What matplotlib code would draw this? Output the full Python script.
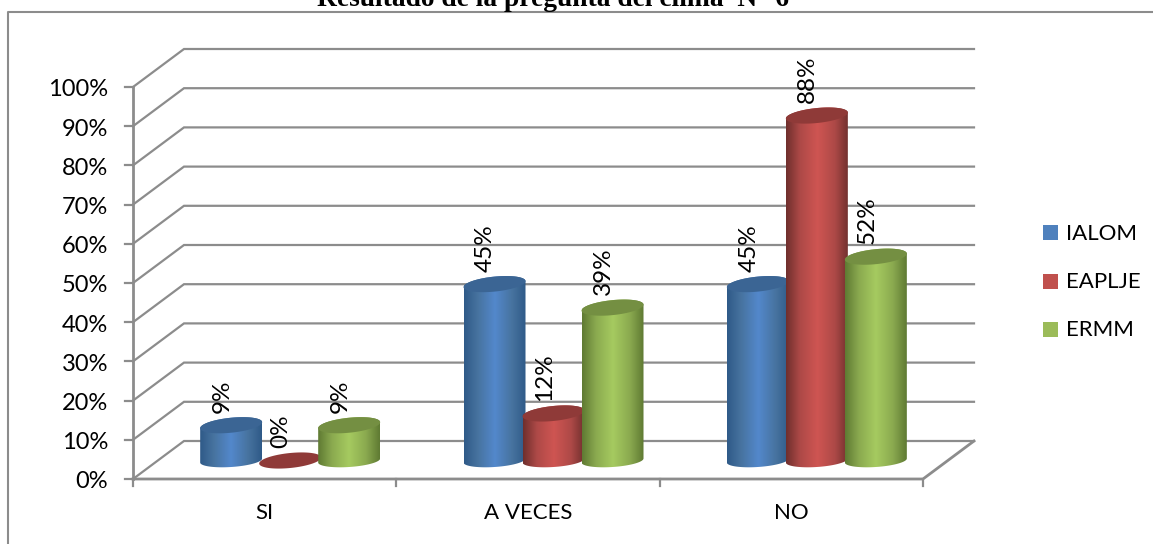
import numpy as np
import matplotlib
matplotlib.use('Agg')
import matplotlib.pyplot as plt
from matplotlib.colors import LinearSegmentedColormap
from matplotlib.patches import Polygon, Rectangle

categories = ['SI', 'A VECES', 'NO']
series_names = ['IALOM', 'EAPLJE', 'ERMM']
ialom = [9, 45, 45]
eaplje = [0, 12, 88]
ermm = [9, 39, 52]
y_ticks = [0, 10, 20, 30, 40, 50, 60, 70, 80, 90, 100]

base_colors = ['#4f81bd', '#c0504d', '#9bbb59']
# edge, cap, mid and highlight shades of each cylinder
shades = [('#2f5a88', '#3b6594', '#47739f', '#5388cc'),
          ('#6f2f2d', '#8f3a38', '#ad4947', '#cf5552'),
          ('#5f7a33', '#748f42', '#8aa94f', '#a6cb60')]

W, H = 1153, 544
LEFT, RIGHT, TOP, BOTTOM = 133, 923, 87, 479
GRID = '#8c8c8c'
FONT = 'Lato'

fig = plt.figure(figsize=(W / 100, H / 100), dpi=100)
ax = fig.add_axes([LEFT / W, 1 - BOTTOM / H, (RIGHT - LEFT) / W, (BOTTOM - TOP) / H])
ax.set_xlim(0, 3)
ax.set_ylim(0, 100)
ax.axis('off')

# pixel sizes converted to data units
px_x = 3 / (RIGHT - LEFT)
px_y = 100 / (BOTTOM - TOP)

depth_x = 51 * px_x
depth_y = 38 * px_y

# walls and gridlines
for v in y_ticks:
    ax.plot([0, depth_x, 3 + depth_x], [v, v + depth_y, v + depth_y],
            color=GRID, lw=1.6, clip_on=False, zorder=1, solid_joinstyle='miter')
    ax.plot([-8 * px_x, 0], [v, v], color=GRID, lw=1.6, clip_on=False, zorder=1)
    ax.text(-25 * px_x, v - 3 * px_y, f'{v}%', ha='right', va='center', fontsize=17,
            family=FONT, color='black', clip_on=False)
ax.plot([0, 0], [0, 100], color=GRID, lw=2, clip_on=False, zorder=1)
ax.plot([0, 3, 3 + depth_x], [0, 0, depth_y], color=GRID, lw=2, clip_on=False, zorder=1)
for i in range(4):
    ax.plot([i, i], [0, -7 * px_y], color=GRID, lw=1.6, clip_on=False, zorder=1)
for i, c in enumerate(categories):
    ax.text(i + 0.5, -34 * px_y, c, ha='center', va='center', fontsize=16, family=FONT)

bar_w = 59 * px_x
rx = 31 * px_x
ry = 7.5 * px_y
tilt = 3 * px_y
base_y = 18.5 * px_y


def ellipse(cx, cy, radius_y=ry, lean=tilt):
    t = np.linspace(0, 2 * np.pi, 90)
    return np.column_stack([cx + rx * np.cos(t),
                            cy + radius_y * np.sin(t) + lean * np.cos(t)])


def cylinder(cx, value, idx, z):
    edge, cap, mid, light = shades[idx]
    cmap = LinearSegmentedColormap.from_list(
        'c', [(0, edge), (0.22, mid), (0.5, light), (0.78, mid), (1, edge)])
    top_y = base_y + value
    # the base sits a little flatter than the cap
    lower = ellipse(cx, base_y, radius_y=6.5 * px_y, lean=2 * px_y)
    upper = ellipse(cx, top_y)
    if value > 0:
        # body outline: lower half of the base, upper half of the top
        body = np.vstack([lower[45:], upper[:46]])
        patch = Polygon(body, closed=True, transform=ax.transData, fc='none', ec='none', zorder=z)
        ax.add_patch(patch)
        grad = np.linspace(0, 1, 128).reshape(1, -1)
        im = ax.imshow(grad, cmap=cmap,
                       extent=[cx - rx, cx + rx, base_y - ry - tilt, top_y + ry + tilt],
                       aspect='auto', zorder=z, interpolation='bilinear')
        im.set_clip_path(patch)
    ax.add_patch(Polygon(upper, closed=True, fc=cap, ec='none', zorder=z + 0.1, clip_on=False))
    ax.text(cx - 9 * px_x, top_y + ry + 5 * px_y, f'{value}%', rotation=90, ha='center', va='bottom',
            fontsize=17.5, family=FONT, zorder=20, clip_on=False)


# three cylinders per category, centred at mid depth
for i in range(len(categories)):
    for j, vals in enumerate([ialom, eaplje, ermm]):
        cx = i + 0.5 + depth_x / 2 + (j - 1) * bar_w
        cylinder(cx, vals[i], j, 5 + j)

ax.set_xlim(0, 3)
ax.set_ylim(0, 100)

# legend
for name, col, py in zip(series_names, base_colors, [232.5, 281.5, 329.5]):
    fig.patches.append(Rectangle((1043 / W, 1 - (py + 7.5) / H), 15 / W, 15 / H,
                                 transform=fig.transFigure, fc=col, ec='none'))
    fig.text(1066 / W, 1 - (py + 1) / H, name, ha='left', va='center', fontsize=16, family=FONT)

# outer frame
fig.add_artist(plt.Line2D([7.5 / W, 7.5 / W, 1], [0, 1 - 12 / H, 1 - 12 / H],
                          transform=fig.transFigure, color=GRID, lw=1.5))

fig.text(553 / W, 1 - 5.5 / H, 'Resultado de la pregunta del clima  N° 6', ha='center', va='baseline',
         fontsize=19.8, fontweight='bold', family='Liberation Serif')

fig.savefig('out.png', dpi=100)
